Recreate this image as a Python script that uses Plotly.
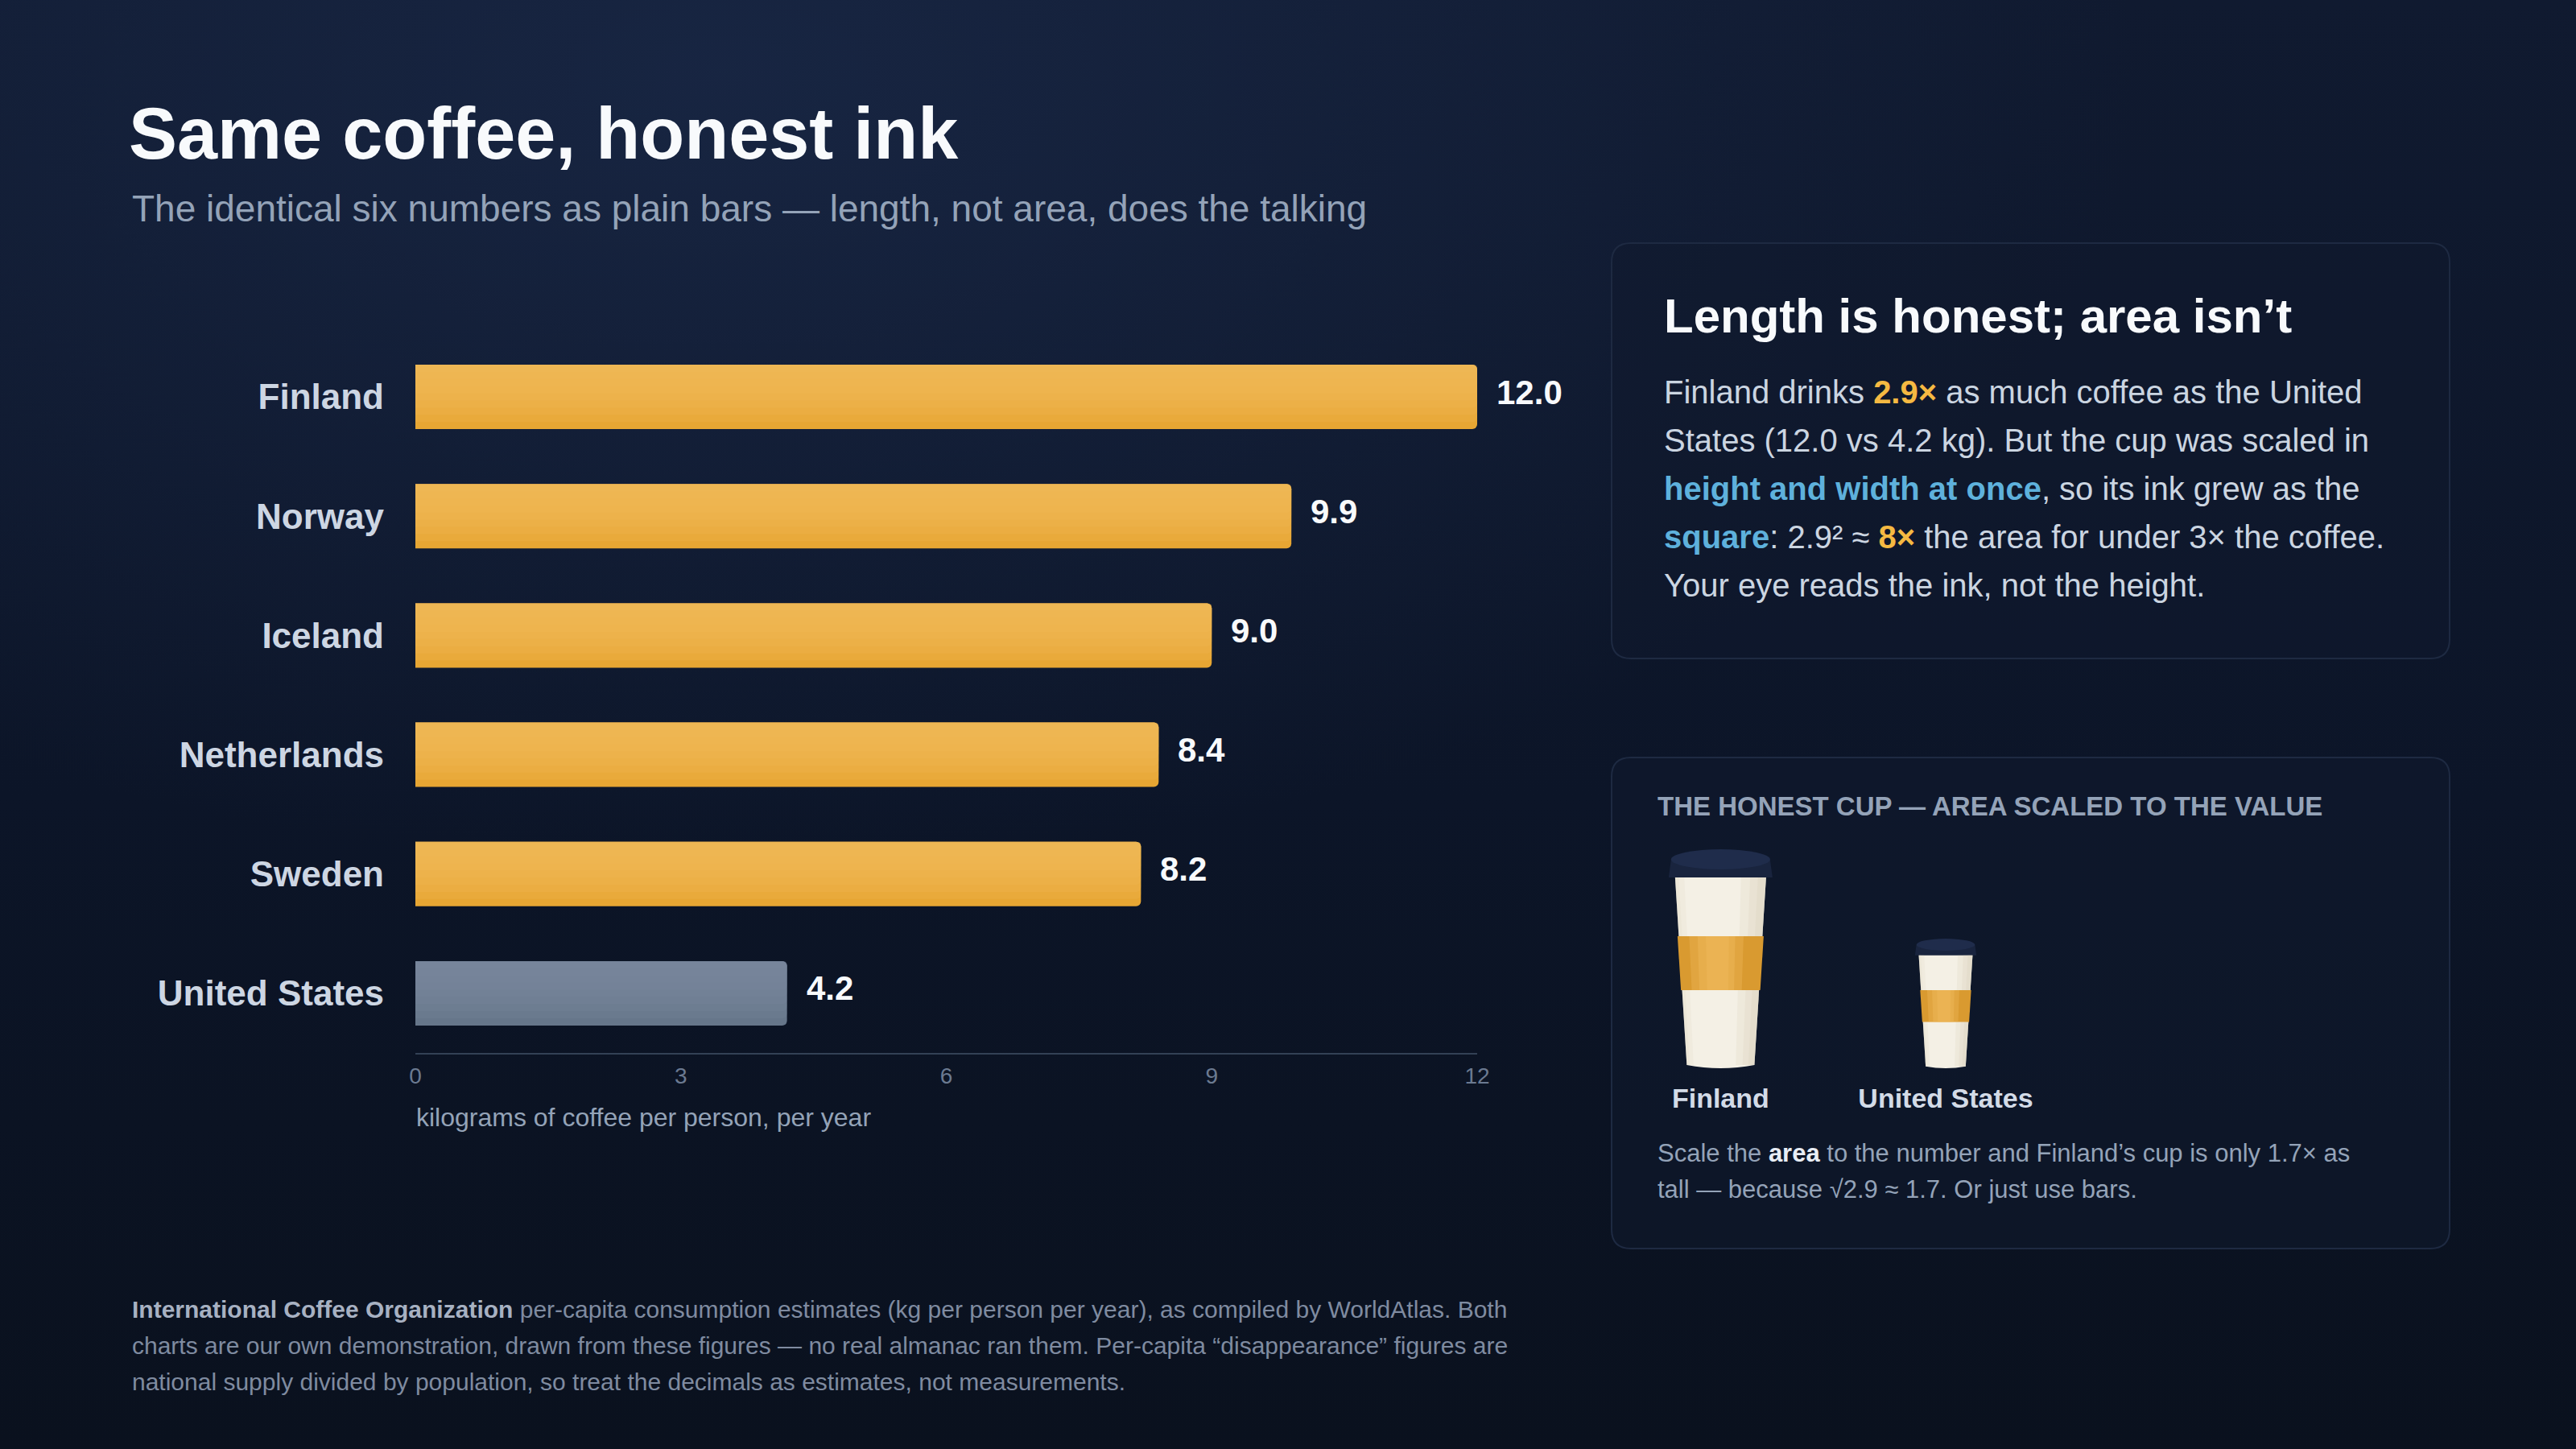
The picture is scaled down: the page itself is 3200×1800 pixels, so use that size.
import base64
import math
import plotly.graph_objects as go

# ---------------- data ----------------
countries = ["Finland", "Norway", "Iceland", "Netherlands", "Sweden", "United States"]
kg_per_person = [12.0, 9.9, 9.0, 8.4, 8.2, 4.2]
x_ticks = [0, 3, 6, 9, 12]
cup_countries = ["Finland", "United States"]
cup_values = [12.0, 4.2]

W, H = 3200, 1800
FONT = "Liberation Sans, Arial, Helvetica, sans-serif"

ORANGE_BOTTOM, ORANGE_TOP = "#e7a633", "#f0ba5c"
SLATE_BOTTOM, SLATE_TOP = "#66768a", "#7d8a9f"
is_us = [c == "United States" for c in countries]
bottom_colors = [SLATE_BOTTOM if u else ORANGE_BOTTOM for u in is_us]
top_colors = [SLATE_TOP if u else ORANGE_TOP for u in is_us]

BAR_W = 0.54


def px(x):
    return x / W


def py(y):
    return 1 - y / H


fig = go.Figure()

# ---------------- bar chart (vertical gradient via layered bars) ----------------
fig.add_trace(go.Bar(
    x=kg_per_person, y=countries, orientation="h",
    marker=dict(color=bottom_colors, cornerradius=6, line=dict(width=0)),
    width=BAR_W, hoverinfo="skip", showlegend=False,
))
N_LAYERS = 9
for i in range(1, N_LAYERS):
    depth = i / N_LAYERS
    fig.add_trace(go.Bar(
        x=kg_per_person, y=countries, orientation="h",
        marker=dict(color=top_colors, cornerradius=6, line=dict(width=0), opacity=0.22),
        width=BAR_W * depth, offset=-BAR_W / 2,
        hoverinfo="skip", showlegend=False,
    ))

# ---------------- cups (area scaled to value) ----------------
cup_centers = [0.358, 1.386]
cup_max = max(cup_values)
shapes = []

B_Y, T_Y = 0.0147, 0.8713
B_HW, T_HW = 0.1544, 0.2077


def body_hw(yn):
    return B_HW + (T_HW - B_HW) * (yn - B_Y) / (T_Y - B_Y)


def band(cx, s, f0, f1, y0n, y1n, color, op):
    """vertical band between fractions f0..f1 of the half-width (-1 left, +1 right)."""
    a0, a1 = body_hw(y0n), body_hw(y1n)
    return dict(
        type="path", xref="x2", yref="y2", layer="above",
        path=(f"M {cx+f0*a1*s},{y1n*s} L {cx+f1*a1*s},{y1n*s} "
              f"L {cx+f1*a0*s},{y0n*s} L {cx+f0*a0*s},{y0n*s} Z"),
        fillcolor=color, opacity=op, line=dict(width=0))


for cx, v in zip(cup_centers, cup_values):
    s = math.sqrt(v / cup_max)
    # brim
    shapes.append(dict(
        type="path", xref="x2", yref="y2", layer="above",
        path=(f"M {cx-0.2261*s},{0.952*s} L {cx+0.2261*s},{0.952*s} "
              f"L {cx+0.2371*s},{0.8713*s} L {cx-0.2371*s},{0.8713*s} Z"),
        fillcolor="#19243e", line=dict(width=0)))
    # lid ellipse
    shapes.append(dict(
        type="circle", xref="x2", yref="y2", layer="above",
        x0=cx - 0.2261 * s, x1=cx + 0.2261 * s, y0=0.908 * s, y1=1.0 * s,
        fillcolor="#1f2c4b", line=dict(width=0)))
    # body
    shapes.append(dict(
        type="path", xref="x2", yref="y2", layer="above",
        path=(f"M {cx-T_HW*s},{T_Y*s} L {cx+T_HW*s},{T_Y*s} "
              f"L {cx+B_HW*s},{B_Y*s} Q {cx},{-0.0147*s} {cx-B_HW*s},{B_Y*s} Z"),
        fillcolor="#f4f0e5", line=dict(width=0)))
    # soft shading at edges
    for f0, op in [(0.45, 0.25), (0.65, 0.3), (0.82, 0.35)]:
        shapes.append(band(cx, s, f0, 1.0, B_Y, T_Y, "#ddd5c0", op))
    for f1, op in [(-0.8, 0.25), (-0.92, 0.3)]:
        shapes.append(band(cx, s, -1.0, f1, B_Y, T_Y, "#e4ddca", op))
    # sleeve
    y0n, y1n = 0.3566, 0.6029
    shapes.append(band(cx, s, -1.03, 1.03, y0n, y1n, "#d99a30", 1.0))
    for f0, f1, op in [(-0.75, 0.55, 0.35), (-0.55, 0.35, 0.4), (-0.35, 0.2, 0.45)]:
        shapes.append(band(cx, s, f0, f1, y0n, y1n, "#f0bb5e", op))

fig.add_trace(go.Scatter(
    x=cup_centers, y=[-0.15] * len(cup_centers), xaxis="x2", yaxis="y2",
    mode="text", text=cup_countries,
    textfont=dict(family=FONT, size=34, color="#d3dbe7", weight="bold"),
    textposition="middle center", hoverinfo="skip", showlegend=False, cliponaxis=False,
))


# ---------------- panels ----------------
def rrect(x0, y0, x1, y1, r):
    pts = [("M", [(x0 + r, y0)]), ("L", [(x1 - r, y0)]), ("Q", [(x1, y0), (x1, y0 + r)]),
           ("L", [(x1, y1 - r)]), ("Q", [(x1, y1), (x1 - r, y1)]), ("L", [(x0 + r, y1)]),
           ("Q", [(x0, y1), (x0, y1 - r)]), ("L", [(x0, y0 + r)]), ("Q", [(x0, y0), (x0 + r, y0)])]
    out = []
    for cmd, ps in pts:
        out.append(cmd + " " + " ".join(f"{px(a):.5f},{py(b):.5f}" for a, b in ps))
    return " ".join(out) + " Z"


for (x0, y0, x1, y1) in [(2002, 302, 3043, 818), (2002, 941, 3043, 1551)]:
    shapes.append(dict(type="path", xref="paper", yref="paper", layer="below",
                       path=rrect(x0, y0, x1, y1, 24),
                       fillcolor="rgba(16,25,45,0.55)",
                       line=dict(color="#1e2a42", width=2)))

# ---------------- annotations ----------------
anns = []


def ann(x, y, text, size, color, xanchor="left"):
    anns.append(dict(x=px(x), y=py(y), xref="paper", yref="paper", text=text,
                     showarrow=False, xanchor=xanchor, yanchor="middle", align="left",
                     font=dict(family=FONT, size=size, color=color)))


ann(158, 166, "<b>Same coffee, honest ink</b>", 90, "#f8fafc")
ann(162, 259, "The identical six numbers as plain bars — length, not area, does the talking", 46, "#94a3b8")

# value labels
for c, v in zip(countries, kg_per_person):
    anns.append(dict(x=v, y=c, xref="x", yref="y", text=f"<b>{v:.1f}</b>", showarrow=False,
                     xanchor="left", yanchor="middle", xshift=22, yshift=6,
                     font=dict(family=FONT, size=42, color="#f8fafc")))

ann(515, 1388, "kilograms of coffee per person, per year", 32, "#94a3b8")

# panel 1
OR = "#f5b942"
BL = "#5eb1dc"
ann(2065, 393, "<b>Length is honest; area isn’t</b>", 60, "#f8fafc")
body_lines = [
    f"Finland drinks <span style='color:{OR}'><b>2.9×</b></span> as much coffee as the United",
    "States (12.0 vs 4.2 kg). But the cup was scaled in",
    f"<span style='color:{BL}'><b>height and width at once</b></span>, so its ink grew as the",
    f"<span style='color:{BL}'><b>square</b></span>: 2.9² ≈ <span style='color:{OR}'><b>8×</b></span> the area for under 3× the coffee.",
    "Your eye reads the ink, not the height.",
]
for i, t in enumerate(body_lines):
    ann(2065, 487 + i * 60, t, 40, "#cbd5e1")

# panel 2
ann(2057, 1001, "<b>THE HONEST CUP — AREA SCALED TO THE VALUE</b>", 33, "#94a3b8")
ann(2057, 1432, "Scale the <span style='color:#e8edf5'><b>area</b></span> to the number and Finland’s cup is only 1.7× as", 31, "#94a3b8")
ann(2057, 1477, "tall — because √2.9 ≈ 1.7. Or just use bars.", 31, "#94a3b8")

# footer
foot = [
    "<span style='color:#a7b1c2'><b>International Coffee Organization</b></span> per-capita consumption estimates (kg per person per year), as compiled by WorldAtlas. Both",
    "charts are our own demonstration, drawn from these figures — no real almanac ran them. Per-capita “disappearance” figures are",
    "national supply divided by population, so treat the decimals as estimates, not measurements.",
]
for i, t in enumerate(foot):
    ann(162, 1626 + i * 45, t, 30, "#7f8ba0")

# ---------------- background ----------------
svg = f"""<svg xmlns='http://www.w3.org/2000/svg' width='{W}' height='{H}' viewBox='0 0 {W} {H}' preserveAspectRatio='none'>
<defs>
<linearGradient id='g' x1='0' y1='0' x2='0' y2='1'>
<stop offset='0' stop-color='#101a30'/><stop offset='0.55' stop-color='#0c1528'/><stop offset='1' stop-color='#0a111e'/>
</linearGradient>
<radialGradient id='r' cx='0.28' cy='0.05' r='0.55'>
<stop offset='0' stop-color='#1a2948' stop-opacity='0.75'/><stop offset='1' stop-color='#1a2948' stop-opacity='0'/>
</radialGradient>
</defs>
<rect width='{W}' height='{H}' fill='url(#g)'/>
<rect width='{W}' height='{H}' fill='url(#r)'/>
</svg>"""
bg_uri = "data:image/svg+xml;base64," + base64.b64encode(svg.encode()).decode()

fig.update_layout(
    template="none",
    width=W, height=H, autosize=False,
    margin=dict(l=0, r=0, t=0, b=0, pad=0, autoexpand=False),
    paper_bgcolor="#0e182b", plot_bgcolor="rgba(0,0,0,0)",
    font=dict(family=FONT, color="#cbd5e1"),
    showlegend=False, barmode="overlay",
    images=[dict(source=bg_uri, xref="paper", yref="paper", x=0, y=1, sizex=1, sizey=1,
                 sizing="stretch", layer="below", xanchor="left", yanchor="top")],
    xaxis=dict(domain=[px(516), px(1835)], range=[0, 12], tickvals=x_ticks, automargin=False,
               showgrid=False, zeroline=False, showline=True, linecolor="#334155", linewidth=2,
               ticks="", ticklabelstandoff=2,
               tickfont=dict(family=FONT, size=28, color="#6b7a91"), fixedrange=True),
    yaxis=dict(domain=[py(1308), py(419)], type="category", categoryorder="array", automargin=False,
               categoryarray=countries, range=[5.5, -0.5], showgrid=False, zeroline=False,
               showline=False, ticks="", ticklabelstandoff=38,
               tickfont=dict(family=FONT, size=44, color="#cdd6e3", weight="bold"), fixedrange=True),
    xaxis2=dict(domain=[px(2040), px(2540)], range=[0, 500 / 272], anchor="y2", automargin=False,
                visible=False, fixedrange=True),
    yaxis2=dict(domain=[py(1400), py(1040)], range=[-(1400 - 1327) / 272, (1327 - 1040) / 272],
                anchor="x2", visible=False, fixedrange=True, automargin=False),
    shapes=shapes,
    annotations=anns,
)

post = (
    "document.documentElement.style.margin='0';"
    "document.documentElement.style.overflow='hidden';"
    "document.body.style.margin='0';document.body.style.padding='0';"
    "document.body.style.overflow='hidden';document.body.style.background='#0e182b';"
)
fig.write_html("out.html", config={"displayModeBar": False, "responsive": False},
               post_script=post)
